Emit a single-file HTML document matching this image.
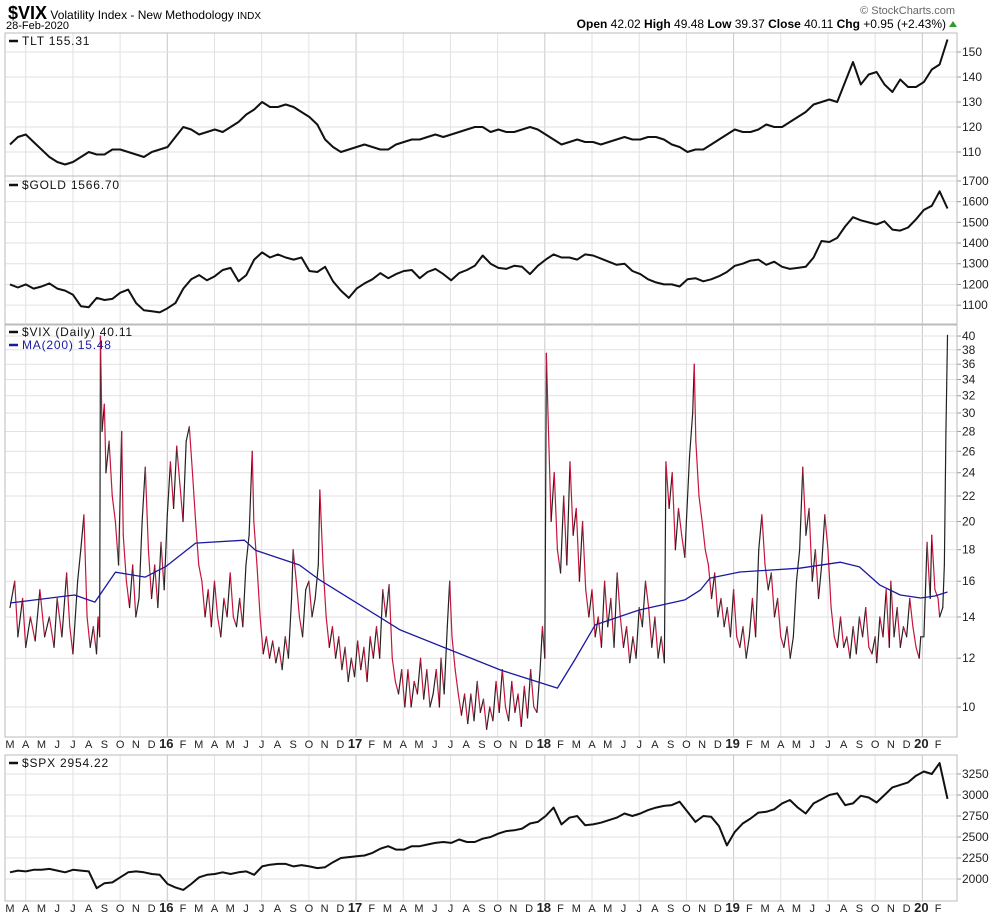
<!DOCTYPE html>
<html><head><meta charset="utf-8"><style>
body{margin:0;background:#fff}
svg{display:block;font-family:"Liberation Sans",sans-serif}
</style></head><body>
<svg id="c" width="996" height="918" viewBox="0 0 996 918"></svg>
<script>
// ---- data ----
const tltVals=[113,116,117,114,111,108,106,105,106,108,110,109,109,111,111,110,109,108,110,111,112,116,120,119,117,118,119,118,120,122,125,127,130,128,128,129,128,126,124,121,115,112,110,111,112,113,112,111,111,113,114,115,115,116,117,116,117,118,119,120,120,118,119,118,118,119,120,119,117,115,113,114,115,114,114,113,114,115,116,115,115,116,116,115,113,112,110,111,111,113,115,117,119,118,118,119,121,120,120,122,124,126,129,130,131,130,138,146,137,141,142,137,134,139,136,136,138,143,145,155];
const goldVals=[1200,1185,1200,1180,1190,1205,1180,1170,1150,1095,1090,1135,1125,1130,1160,1175,1110,1075,1070,1065,1085,1110,1180,1225,1245,1220,1240,1270,1280,1215,1245,1320,1355,1330,1345,1330,1320,1330,1265,1260,1285,1215,1170,1135,1180,1205,1225,1255,1230,1250,1265,1270,1230,1260,1275,1250,1220,1255,1270,1290,1340,1300,1280,1275,1290,1285,1250,1290,1320,1345,1330,1330,1320,1345,1340,1325,1310,1295,1300,1265,1250,1225,1210,1200,1200,1190,1225,1230,1215,1225,1240,1260,1290,1300,1315,1320,1295,1310,1285,1275,1280,1285,1330,1410,1405,1425,1480,1525,1510,1500,1490,1505,1465,1460,1475,1515,1560,1580,1650,1567];
const spxVals=[2080,2100,2090,2110,2110,2120,2100,2080,2110,2100,2090,1890,1950,1960,2020,2080,2090,2080,2060,2050,1940,1900,1870,1940,2020,2050,2060,2080,2060,2080,2090,2050,2150,2170,2180,2180,2150,2165,2150,2130,2140,2200,2250,2260,2270,2280,2310,2360,2390,2350,2350,2390,2390,2410,2430,2440,2430,2470,2440,2440,2480,2500,2540,2570,2580,2600,2660,2680,2750,2850,2650,2730,2750,2640,2650,2670,2700,2730,2780,2750,2780,2820,2850,2870,2880,2920,2800,2680,2750,2740,2630,2400,2560,2660,2720,2790,2800,2830,2900,2940,2850,2780,2900,2950,3000,3020,2880,2900,2990,2970,2910,3000,3090,3120,3150,3230,3280,3250,3380,2954];
const vixT=[0,0.3,0.5,0.8,1.0,1.3,1.6,1.9,2.2,2.5,2.8,3.0,3.3,3.6,3.8,4.0,4.3,4.5,4.7,4.9,5.1,5.3,5.5,5.6,5.7,5.75,5.85,6.0,6.1,6.3,6.5,6.7,6.9,7.1,7.2,7.4,7.6,7.8,8.0,8.2,8.4,8.6,8.8,9.0,9.2,9.4,9.6,9.8,10.0,10.2,10.4,10.6,10.8,11.0,11.2,11.4,11.6,11.8,12.0,12.2,12.4,12.6,12.8,13.0,13.2,13.4,13.6,13.8,14.0,14.2,14.4,14.6,14.8,15.0,15.2,15.4,15.5,15.7,15.9,16.1,16.3,16.5,16.7,16.9,17.1,17.3,17.5,17.7,17.9,18.0,18.2,18.4,18.6,18.8,19.0,19.2,19.4,19.6,19.7,19.9,20.1,20.3,20.5,20.7,20.9,21.1,21.3,21.5,21.7,21.9,22.1,22.3,22.5,22.7,22.9,23.1,23.3,23.5,23.7,23.9,24.1,24.3,24.5,24.7,24.9,25.1,25.3,25.5,25.7,25.9,26.1,26.3,26.5,26.7,26.9,27.1,27.3,27.4,27.6,27.8,27.95,28.1,28.3,28.5,28.7,28.9,29.1,29.3,29.5,29.7,29.9,30.1,30.3,30.5,30.7,30.9,31.1,31.3,31.5,31.7,31.9,32.1,32.3,32.5,32.7,32.9,33.1,33.3,33.5,33.7,33.85,34.0,34.1,34.2,34.4,34.6,34.8,35.0,35.2,35.4,35.6,35.8,36.0,36.2,36.4,36.6,36.8,37.0,37.2,37.4,37.6,37.8,38.0,38.2,38.4,38.6,38.8,39.0,39.2,39.4,39.6,39.8,40.0,40.2,40.4,40.6,40.8,41.0,41.2,41.4,41.6,41.7,41.9,42.1,42.3,42.5,42.7,42.9,43.0,43.2,43.4,43.5,43.6,43.8,44.0,44.2,44.4,44.6,44.8,45.0,45.2,45.4,45.6,45.8,46.0,46.2,46.4,46.6,46.8,47.0,47.2,47.4,47.6,47.8,48.0,48.2,48.4,48.6,48.8,49.0,49.2,49.4,49.6,49.8,50.0,50.2,50.4,50.6,50.8,51.0,51.2,51.4,51.6,51.8,52.0,52.2,52.4,52.6,52.8,53.0,53.2,53.4,53.6,53.8,54.0,54.2,54.4,54.6,54.8,55.0,55.1,55.3,55.5,55.7,55.9,56.0,56.2,56.4,56.6,56.8,57.0,57.2,57.4,57.6,57.8,57.9,58.1,58.3,58.5,58.6,58.8,59.0,59.1,59.3,59.4,59.5,59.6];
const vixVals=[14.5,16,13,15,12.5,14,12.8,15.5,13,14,12.5,15,13,16.5,13.5,12.2,16,18,20.5,14,12.5,13.5,12.2,14,13,40,28,31,24,27,22,20,17,28,19,16,14.5,17,14,15,20,24.5,18,15,17,14.5,18.5,15.5,20.5,25,21,26.5,23,20,27,28.5,24,20,17,16,14,15.5,13.5,16,14,13,15,14,16.5,14,13.5,15,13.5,17,19,26,20,17,14,12.2,13,12,12.8,11.8,12.5,11.5,13,12,15,18,16,14,13,15.5,16,14,15,17,22.5,17,14,12.5,13.5,12,13,11.5,12.5,11,12,11.2,12.8,11.5,12.5,11,13,12,13.5,12,15.5,14,15.8,12,11,10.5,11.5,10,11.5,10,11,10.5,12,10.3,11.5,10,10.5,11.5,10,12,10.5,13.5,16,13,11.5,10.5,9.7,10.5,9.4,10.5,9.5,11,9.8,10.3,9.2,10,9.5,11,9.8,11.5,10,9.5,11,9.8,10.5,9.3,10.8,9.6,11.5,10,9.8,11.5,13.5,12,37.5,30,20,24,18,16.5,22,17,25,19,21,16,20,15.5,14,15.5,13,14,12.5,16,13.5,15,12.5,16.5,14,12.5,13.5,11.8,13,12,14.5,13.5,16,14.5,12.5,14,12,13,11.8,25,21,24,18,21,19,17.5,20,25.5,30,36,27,22,20,18,17,15,16.5,14,15,13.5,14.5,13,15.5,13,12.5,13.5,12,13,15,13,18,20.5,17,15.5,16.5,14,15,13,12.5,13.5,12,13,16,18,24.5,19,21,16,18,15,17,20.5,18,14.5,13,12.5,14,12.5,13,12,13.5,12.2,14,13,14.5,12.5,12.2,13,11.8,14,13,15.5,12.5,16,13,14.5,12.5,13.5,13,15,13.5,12.5,12,13,13,18.5,15,19,15.5,15,14,14.5,17,28,40.11];
const maT=[0,4.1,5.4,6.7,8.6,9.9,11.8,14.9,15.6,18.4,19.7,24.8,31.2,34.8,35.9,37.2,40.0,42.9,43.9,44.5,46.4,50.2,52.8,54.0,55.3,56.6,57.9,58.8,59.6];
const maVals=[14.75,15.2,14.8,16.55,16.25,16.9,18.45,18.65,17.97,17.0,16.07,13.34,11.48,10.73,11.92,13.59,14.37,14.92,15.49,16.19,16.56,16.8,17.18,16.88,15.77,15.2,15.03,15.14,15.37];
const tltTicks=[110,120,130,140,150];
const goldTicks=[1100,1200,1300,1400,1500,1600,1700];
const vixTicks=[10,12,14,16,18,20,22,24,26,28,30,32,34,36,38,40];
const spxTicks=[2000,2250,2500,2750,3000,3250];
const monthLabels=["M","A","M","J","J","A","S","O","N","D","16","F","M","A","M","J","J","A","S","O","N","D","17","F","M","A","M","J","J","A","S","O","N","D","18","F","M","A","M","J","J","A","S","O","N","D","19","F","M","A","M","J","J","A","S","O","N","D","20","F"];

// ---- scales ----
const NS="http://www.w3.org/2000/svg";
const svg=document.getElementById('c');
const L=5,R=957;
const xT=t=>10+t*15.73;
const semiT=i=>i*59.6/119;
const P={tlt:[33,176,100.4,157.6],gold:[176,325,1004,1724],vix:[324,737],spx:[755,901,1738,3476]};
const linY=(p)=>v=>p[1]-(v-p[2])/(p[3]-p[2])*(p[1]-p[0]);
const yT=linY(P.tlt),yG=linY(P.gold),yS=linY(P.spx);
const yV=v=>707-Math.log(v/10)*267.6;
function el(tag,a,parent){const e=document.createElementNS(NS,tag);for(const k in a)e.setAttribute(k,a[k]);(parent||svg).appendChild(e);return e;}
function txt(s,a,parent){const e=el('text',a,parent);e.textContent=s;return e;}

// header
let h=txt('',{x:8,y:19,'font-size':12,fill:'#000'});


h.innerHTML='<tspan font-weight="bold" font-size="18">$VIX</tspan> Volatility Index - New Methodology <tspan font-size="10">INDX</tspan>';
let d=txt('28-Feb-2020',{x:6,y:29,'font-size':11});


let sc=txt('© StockCharts.com',{x:955,y:14,'font-size':11,fill:'#666','text-anchor':'end'});


let q=txt('',{x:946,y:28,'font-size':12,'text-anchor':'end'});


q.innerHTML='<tspan font-weight="bold">Open</tspan> 42.02 <tspan font-weight="bold">High</tspan> 49.48 <tspan font-weight="bold">Low</tspan> 39.37 <tspan font-weight="bold">Close</tspan> 40.11 <tspan font-weight="bold">Chg</tspan> +0.95 (+2.43%)';
let tri=el('polygon',{points:'949,27 957,27 953,21',fill:'#2a9d2a'});



function panel(name,top,bot,ticks,yf,fmt){
  const g=el('g',{});
  
  
  for(let m=1;m<60;m+=3){const x=xT(m);const yr=(m%12)===10;
    el('line',{x1:x,x2:x,y1:top,y2:bot,stroke:yr?'#c8c8c8':'#e2e2e2','stroke-width':1},g);}
  ticks.forEach(v=>{const y=yf(v);
    el('line',{x1:L,x2:R,y1:y,y2:y,stroke:'#e2e2e2'},g);
    el('line',{x1:R,x2:R+4,y1:y,y2:y,stroke:'#999'},g);
    const t=txt(fmt?fmt(v):String(v),{x:R+5,y:y+4,'font-size':12,fill:'#222'},g);
    
    
  });
  el('rect',{x:L,y:top,width:R-L,height:bot-top,fill:'none',stroke:'#bbb'},g);
  return g;
}
function line(g,ts,vs,yf,color,w,nm){
  let dstr='';vs.forEach((v,i)=>{dstr+=(i?'L':'M')+xT(ts(i)).toFixed(1)+','+yf(v).toFixed(1);});
  const p=el('path',{d:dstr,fill:'none',stroke:color,'stroke-width':w,'stroke-linejoin':'round'},g);
  
  
  return p;
}
function legend(g,x,y,s,col){
  el('line',{x1:x,x2:x+9,y1:y-4,y2:y-4,stroke:col,'stroke-width':2.5},g);
  const t=txt(s,{x:x+13,y:y,'font-size':12,fill:col,'letter-spacing':'0.8'},g);
  
  
}

const g1=panel('tlt',P.tlt[0],P.tlt[1],tltTicks,yT);
line(g1,semiT,tltVals,yT,'#111',2,'tlt-line');
legend(g1,9,45,'TLT 155.31','#111');

const g2=panel('gold',P.gold[0],P.gold[1],goldTicks,yG);
line(g2,semiT,goldVals,yG,'#111',2,'gold-line');
legend(g2,9,189,'$GOLD 1566.70','#111');

const g3=panel('vix',P.vix[0],P.vix[1],vixTicks,yV);
for(let i=1;i<vixVals.length;i++){
  const dn=vixVals[i]<vixVals[i-1];
  const s=el('line',{x1:xT(vixT[i-1]),y1:yV(vixVals[i-1]),x2:xT(vixT[i]),y2:yV(vixVals[i]),stroke:dn?'#c8153c':'#222','stroke-width':1.2,'stroke-linecap':'round'},g3);
  
  
}
line(g3,i=>maT[i],maVals,yV,'#1a1aa0',1.3,'ma200-line');
legend(g3,9,336,'$VIX (Daily) 40.11','#111');
legend(g3,9,349,'MA(200) 15.48','#1a1aa0');

const g4=panel('spx',P.spx[0],P.spx[1],spxTicks,yS);
line(g4,semiT,spxVals,yS,'#111',2,'spx-line');
legend(g4,9,767,'$SPX 2954.22','#111');

[748,912].forEach((yy,k)=>{
  monthLabels.forEach((s,i)=>{
    const yr=s.length>1;
    const t=txt(s,{x:xT(i)-(yr?1:0),y:yy,'font-size':yr?13:11,'font-weight':yr?'bold':'normal','text-anchor':'middle',fill:'#222'});
    
    
  });
});
</script>
</body></html>
